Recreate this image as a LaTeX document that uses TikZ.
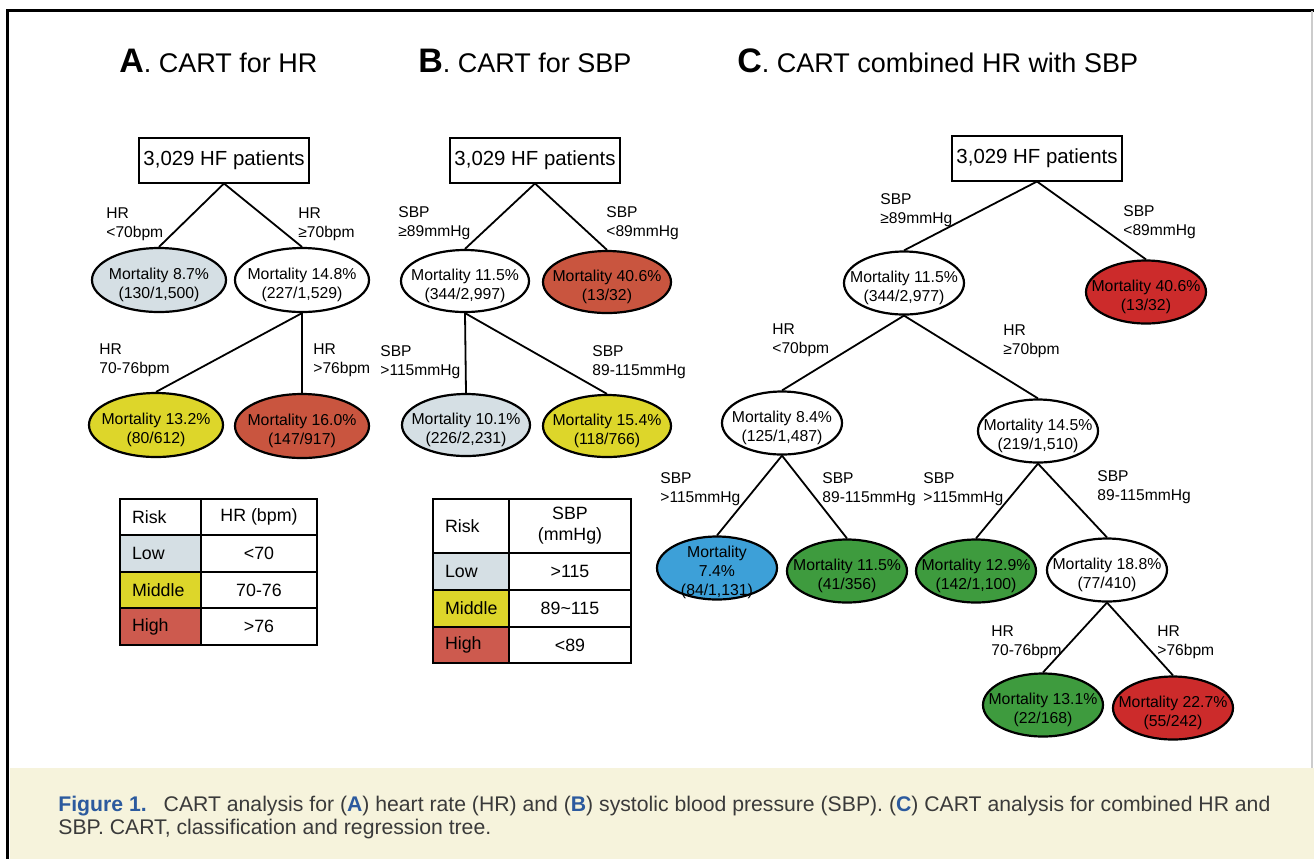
\documentclass[tikz,border=0pt]{standalone}
\usepackage{fontspec}
\setmainfont{Liberation Sans}
\usetikzlibrary{shapes.geometric}

\definecolor{lowfill}{HTML}{D5DFE4}
\definecolor{midfill}{HTML}{DDD62A}
\definecolor{highfill}{HTML}{C9553F}
\definecolor{highcell}{HTML}{CD5A4E}
\definecolor{redfill}{HTML}{CC2B2B}
\definecolor{greenfill}{HTML}{3E9B3E}
\definecolor{bluefill}{HTML}{3DA0D8}
\definecolor{capband}{HTML}{F6F3DC}
\definecolor{capblue}{HTML}{2C5A9E}
\definecolor{captext}{HTML}{3A3A3A}

% text of an ellipse, kept out of the shape size
\newcommand{\mtxt}[1]{\makebox[0pt]{\raisebox{-4.5pt}[0pt][0pt]{\begin{tabular}{@{}c@{}}#1\end{tabular}}}}

\tikzset{
  title/.style = {
      anchor=base west,
      inner sep=0pt,
      font=\fontsize{13.5}{15}\selectfont
  },
  root/.style = {
      draw,
      rectangle,
      line width=1pt,
      minimum width=85pt,
      minimum height=22.5pt,
      inner sep=2pt,
      font=\fontsize{10.2}{12}\selectfont
  },
  mort/.style = {
      draw,
      ellipse,
      line width=1.1pt,
      inner sep=0pt,
      minimum width=67pt,
      minimum height=32pt,
      font=\fontsize{7.9}{9.5}\selectfont
  },
  mortb/.style = {
      mort,
      minimum width=64pt,
      minimum height=31pt
  },
  mortc/.style = {
      mort,
      minimum width=60pt,
      minimum height=31.5pt
  },
  cut/.style = {
      anchor=north west,
      align=left,
      inner sep=0pt,
      font=\fontsize{7.8}{9.5}\selectfont
  },
  edge/.style = {
      line width=0.9pt
  },
  cell/.style = {
      draw,
      line width=1pt,
      anchor=north west,
      inner xsep=6pt,
      inner ysep=0pt,
      outer sep=0pt,
      font=\fontsize{8.9}{10.5}\selectfont
  },
  caption/.style = {
      anchor=north west,
      align=left,
      inner sep=0pt,
      text=captext,
      font=\fontsize{10.6}{11.5}\selectfont
  }
}

\begin{document}
\begin{tikzpicture}[x=0.5pt, y=-0.5pt]
    \useasboundingbox (0,0) rectangle (1314,859);
    \fill[white] (0,0) rectangle (1314,859);
    \fill[capband] (10,768) rectangle (1314,859);
    \draw[line width=1.5pt] (1314,10) -- (7.5,10) -- (7.5,859);
    \draw[gray!40, line width=0.6pt] (1312,11) -- (1312,768);

    % Titles
    \node[title] (ta) at (119,72) {{\fontsize{17}{19}\selectfont\bfseries A}. CART for HR};
    \node[title] (tb) at (418,72) {{\fontsize{17}{19}\selectfont\bfseries B}. CART for SBP};
    \node[title] (tc) at (737,72) {{\fontsize{17}{19}\selectfont\bfseries C}. CART combined HR with SBP};

    % Nodes A
    \node[root] (a0) at (224,160) {3,029 HF patients};
    \node[mort, fill=lowfill] (a1) at (159,280) {\mtxt{Mortality 8.7\%\\(130/1,500)}};
    \node[mort] (a2) at (302,280) {\mtxt{Mortality 14.8\%\\(227/1,529)}};
    \node[mort, fill=midfill] (a3) at (156,425) {\mtxt{Mortality 13.2\%\\(80/612)}};
    \node[mort, fill=highfill] (a4) at (302,426) {\mtxt{Mortality 16.0\%\\(147/917)}};
    \node[cut] (ac1) at (106,207) {HR\\<70bpm};
    \node[cut] (ac2) at (298,207) {HR\\≥70bpm};
    \node[cut] (ac3) at (99,343) {HR\\70-76bpm};
    \node[cut] (ac4) at (313,343) {HR\\>76bpm};

    % Nodes B
    \node[root] (b0) at (535,160) {3,029 HF patients};
    \node[mortb] (b1) at (465,281) {\mtxt{Mortality 11.5\%\\(344/2,997)}};
    \node[mortb, fill=highfill] (b2) at (607,282) {\mtxt{Mortality 40.6\%\\(13/32)}};
    \node[mortb, fill=lowfill] (b3) at (466,425) {\mtxt{Mortality 10.1\%\\(226/2,231)}};
    \node[mortb, fill=midfill] (b4) at (607,426) {\mtxt{Mortality 15.4\%\\(118/766)}};
    \node[cut] (bc1) at (398,206) {SBP\\≥89mmHg};
    \node[cut] (bc2) at (606,206) {SBP\\<89mmHg};
    \node[cut] (bc3) at (380,345) {SBP\\>115mmHg};
    \node[cut] (bc4) at (592,345) {SBP\\89-115mmHg};

    % Nodes C
    \node[root] (c0) at (1037,158) {3,029 HF patients};
    \node[mortc] (c1) at (904,283) {\mtxt{Mortality 11.5\%\\(344/2,977)}};
    \node[mortc, fill=redfill] (c2) at (1146,292) {\mtxt{Mortality 40.6\%\\(13/32)}};
    \node[mortc] (c3) at (782,423) {\mtxt{Mortality 8.4\%\\(125/1,487)}};
    \node[mortc] (c4) at (1038,431) {\mtxt{Mortality 14.5\%\\(219/1,510)}};
    \node[mortc, fill=bluefill] (c5) at (717,568) {\mtxt{Mortality\\7.4\%\\(84/1,131)}};
    \node[mortc, fill=greenfill] (c6) at (847,571) {\mtxt{Mortality 11.5\%\\(41/356)}};
    \node[mortc, fill=greenfill] (c7) at (976,571) {\mtxt{Mortality 12.9\%\\(142/1,100)}};
    \node[mortc] (c8) at (1107,570) {\mtxt{Mortality 18.8\%\\(77/410)}};
    \node[mortc, fill=greenfill] (c9) at (1043,705) {\mtxt{Mortality 13.1\%\\(22/168)}};
    \node[mortc, fill=redfill] (c10) at (1173,708) {\mtxt{Mortality 22.7\%\\(55/242)}};
    \node[cut] (cc1) at (880,193) {SBP\\≥89mmHg};
    \node[cut] (cc2) at (1123,205) {SBP\\<89mmHg};
    \node[cut] (cc3) at (772,323) {HR\\<70bpm};
    \node[cut] (cc4) at (1003,324) {HR\\≥70bpm};
    \node[cut] (cc5) at (660,472) {SBP\\>115mmHg};
    \node[cut] (cc6) at (822,472) {SBP\\89-115mmHg};
    \node[cut] (cc7) at (923,472) {SBP\\>115mmHg};
    \node[cut] (cc8) at (1097,470) {SBP\\89-115mmHg};
    \node[cut] (cc9) at (991,625) {HR\\70-76bpm};
    \node[cut] (cc10) at (1157,625) {HR\\>76bpm};

    % Edges
    \path[draw, edge]
    (a0.south) -- (a1.north)
    (a0.south) -- (a2.north)
    (a2.south) -- (a3.north)
    (a2.south) -- (a4.north)
    (b0.south) -- (b1.north)
    (b0.south) -- (b2.north)
    (b1.south) -- (b3.north)
    (b1.south) -- (b4.north)
    (c0.south) -- (c1.north)
    (c0.south) -- (c2.north)
    (c1.south) -- (c3.north)
    (c1.south) -- (c4.north)
    (c3.south) -- (c5.north)
    (c3.south) -- (c6.north)
    (c4.south) -- (c7.north)
    (c4.south) -- (c8.north)
    (c8.south) -- (c9.north)
    (c8.south) -- (c10.north);

    % Risk tables
    \foreach \y/\h/\risk/\val/\col [count=\i] in
      {499/36/Risk/HR (bpm)/white, 535/37/Low/<70/lowfill,
       572/36/Middle/70-76/midfill, 608/37/High/>76/highcell}
    {
      \node[cell, fill=\col, minimum width=40.5pt, minimum height=\h*0.5pt,
            text width=28.5pt, align=left] (ra\i) at (120,\y) {\risk};
      \node[cell, minimum width=58pt, minimum height=\h*0.5pt] (va\i) at (201,\y) {\val};
    }
    \node[cell, minimum width=38pt, minimum height=27pt,
          text width=26pt, align=left] (rb1) at (433,499) {Risk};
    \node[cell, minimum width=61pt, minimum height=27pt, align=center] (vb1) at (509,499) {SBP\\(mmHg)};
    \foreach \y/\h/\risk/\val/\col [count=\i from 2] in
      {553/37/Low/>115/lowfill, 590/37/Middle/89\textasciitilde115/midfill,
       627/36/High/<89/highcell}
    {
      \node[cell, fill=\col, minimum width=38pt, minimum height=\h*0.5pt,
            text width=26pt, align=left] (rb\i) at (433,\y) {\risk};
      \node[cell, minimum width=61pt, minimum height=\h*0.5pt] (vb\i) at (509,\y) {\val};
    }

    % Caption
    \node[caption] (cap) at (58,796) {{\color{capblue}\bfseries Figure 1.}\hspace{0.8em}CART analysis for ({\color{capblue}\bfseries A}) heart rate (HR) and ({\color{capblue}\bfseries B}) systolic blood pressure (SBP). ({\color{capblue}\bfseries C}) CART analysis for combined HR and\\SBP. CART, classification and regression tree.};
\end{tikzpicture}
\end{document}
